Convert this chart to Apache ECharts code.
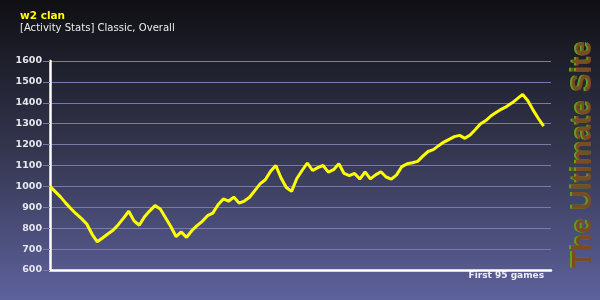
<!DOCTYPE html>
<html>
<head>
<meta charset="utf-8">
<script src="https://cdn.jsdelivr.net/npm/echarts@6/dist/echarts.min.js"></script>
<style>
html,body{margin:0;padding:0;background:#000;}
#c{width:600px;height:300px;}
</style>
</head>
<body>
<div id="c"></div>
<script>
const titleText = 'w2 clan';
const subtitleText = '[Activity Stats] Classic, Overall';
const xLabel = 'First 95 games';
const siteText = 'The Ultimate Site';
const yTicks = [600, 700, 800, 900, 1000, 1100, 1200, 1300, 1400, 1500, 1600];
const activity = [
  1000, 975, 950, 920, 893, 868, 846, 820, 772, 735,
  753, 772, 790, 817, 848, 881, 835, 814, 855, 883,
  908, 892, 850, 808, 760, 782, 756, 788, 812, 833,
  860, 872, 912, 940, 929, 949, 920, 930, 948, 980,
  1012, 1032, 1072, 1100, 1040, 995, 976, 1038, 1076, 1112,
  1076, 1090, 1100, 1068, 1080, 1108, 1062, 1052, 1062, 1035,
  1070, 1036, 1055, 1070, 1045, 1035, 1055, 1095, 1108, 1113,
  1120, 1145, 1167, 1176, 1195, 1212, 1225, 1238, 1244, 1230,
  1246, 1272, 1300, 1315, 1338, 1355, 1370, 1383, 1400, 1420,
  1440, 1410, 1365, 1325, 1288
];
const games = activity.map((v, i) => i);

const chart = echarts.init(document.getElementById('c'), null, {renderer: 'canvas'});
const font = 'DejaVu Sans';
const siteFont = 'bold 28px "Liberation Sans"';
chart.setOption({
  animation: false,
  backgroundColor: new echarts.graphic.LinearGradient(0, 0, 0, 1, [
    {offset: 0, color: '#0f0f13'},
    {offset: 0.5, color: '#34364f'},
    {offset: 1, color: '#5e629c'}
  ]),
  title: [
    {text: titleText, left: 20, top: 11, padding: 0, textStyle: {color: '#ffff00', fontFamily: font, fontWeight: 'bold', fontSize: 10.5}},
    {text: subtitleText, left: 20, top: 23, padding: 0, textStyle: {color: '#ececec', fontFamily: 'DejaVu Sans Condensed', fontWeight: 'normal', fontSize: 11.2}}
  ],
  grid: {left: 50, right: 49, top: 61, bottom: 30, containLabel: false},
  xAxis: {
    type: 'value', min: 0, max: 95.4,
    axisLine: {show: true, onZero: false, lineStyle: {color: '#ffffff', width: 2.5}},
    axisTick: {show: false}, axisLabel: {show: false}, splitLine: {show: false}
  },
  yAxis: {
    type: 'value', min: yTicks[0], max: yTicks[yTicks.length - 1], interval: 100,
    axisLine: {show: true, lineStyle: {color: '#ffffff', width: 2.5}},
    axisTick: {show: true, length: 7, lineStyle: {color: '#7a7aaa', width: 1}},
    axisLabel: {color: '#e6e6ee', fontFamily: font, fontWeight: 'bold', fontSize: 9.5, margin: 8,
                formatter: v => String(v)},
    splitLine: {show: true, lineStyle: {color: '#7a7aaa', width: 1}}
  },
  series: [{
    type: 'line',
    data: games.map((g, i) => [g, activity[i]]),
    showSymbol: false,
    lineStyle: {color: '#ffff00', width: 3},
    z: 5
  }],
  graphic: [
    {type: 'text', right: 56, top: 271, style: {text: xLabel, fill: '#ececf4', font: 'bold 9px "DejaVu Sans"'}},
    {type: 'text', x: 595, y: 268, rotation: Math.PI / 2,
     style: {text: siteText, fill: '#5ea01a', font: siteFont, textAlign: 'left', textVerticalAlign: 'bottom'}},
    {type: 'text', x: 597, y: 268, rotation: Math.PI / 2,
     style: {text: siteText, fill: '#7b4b22', font: siteFont, textAlign: 'left', textVerticalAlign: 'bottom'}}
  ]
});
</script>
</body>
</html>
